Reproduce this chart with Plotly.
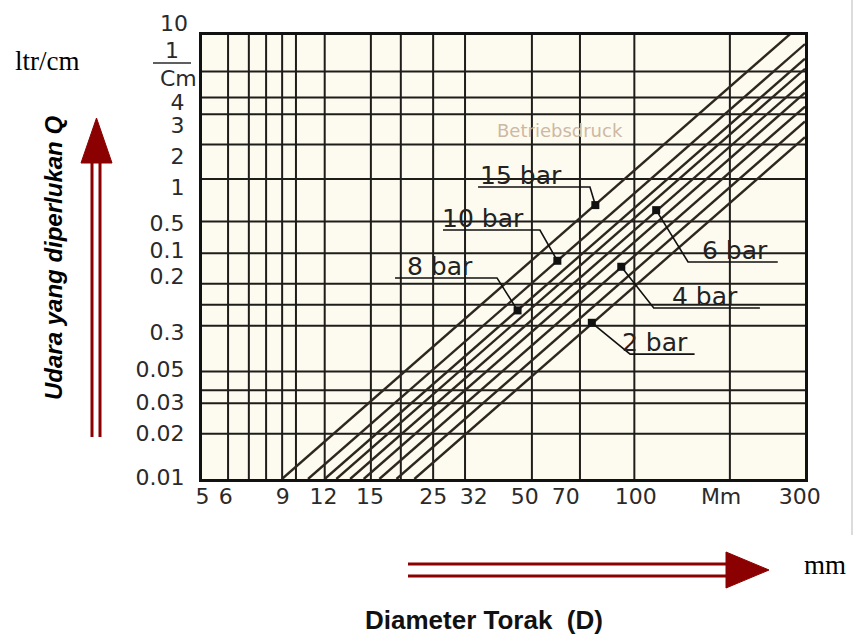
import numpy as np
import plotly.graph_objects as go

# ---------------- data ----------------
# axis extents: diameter D in mm, air Q in l/cm
x_range = [5, 340]
y_range = [0.01, 9.12]

# grid line positions
x_grid = [6.0, 6.94, 7.83, 8.76, 9.65, 11.8, 16.3, 20.1, 25.2, 31.5, 50.3, 70.4, 103, 201]
y_grid = [0.02, 0.032, 0.039, 0.052, 0.105, 0.145, 0.2, 0.32, 0.52, 1.0, 1.7, 2.7, 3.5, 5.2]

# tick labels as printed (positions where they sit on the scan)
x_tick_pos = [5.02, 5.9, 8.8, 11.7, 16.2, 25.2, 33.5, 47.8, 63.7, 104, 189, 328]
x_tick_text = ["5", "6", "9", "12", "15", "25", "32", "50", "70", "100", "Mm", "300"]
y_tick_pos = [0.0103, 0.0203, 0.0326, 0.054, 0.0955, 0.226, 0.336, 0.509, 0.884, 1.42, 2.29, 3.26]
y_tick_text = ["0.01", "0.02", "0.03", "0.05", "0.3", "0.2", "0.1", "0.5", "1", "2", "3", "4"]

# pressure lines: diameter where Q = 0.01 l/cm, and Q at D = 340 mm
line_d_low = [8.75, 10.5, 11.8, 12.8, 14.1, 15.5, 17.3, 19.5, 22.1]
line_q_low = 0.01
line_d_high = 340
line_q_high = [11.3, 7.94, 6.34, 5.43, 4.51, 3.76, 3.04, 2.42, 1.90]

# labelled pressure lines
label_text = ["15 bar", "10 bar", "8 bar", "6 bar", "4 bar", "2 bar"]
label_dot_d = [78.4, 60.1, 45.5, 120, 94, 76.5]
label_dot_q = [0.67, 0.285, 0.133, 0.62, 0.26, 0.11]
label_under_q = [0.884, 0.457, 0.219, 0.28, 0.138, 0.068]
label_far_d = [34.5, 27.0, 19.3, 281, 248, 157]
label_elbow_d = [75.5, 53.2, 39.4, 150, 118, 100]
label_text_d = [34.5, 26.4, 20.7, 163, 132, 93]

# ---------------- figure ----------------
W, H = 859, 635
L, R, T, B = 202, 54, 35, 156
PW, PH = W - L - R, H - T - B


def px(xp, yp):
    """pixel position on the page -> paper coordinates"""
    return (xp - L) / PW, (T + PH - yp) / PH


fig = go.Figure()

gx, gy = [], []
for v in x_grid:
    gx += [v, v, None]
    gy += [y_range[0], y_range[1], None]
for v in y_grid:
    gx += [x_range[0], x_range[1], None]
    gy += [v, v, None]
fig.add_trace(go.Scatter(x=gx, y=gy, mode="lines",
                         line=dict(color="#1f1d1a", width=2),
                         hoverinfo="skip", showlegend=False))

for d0, q1 in zip(line_d_low, line_q_high):
    fig.add_trace(go.Scatter(x=[d0, line_d_high], y=[line_q_low, q1], mode="lines",
                             line=dict(color="#2e2720", width=2.4),
                             hoverinfo="skip", showlegend=False))

for i in range(len(label_text)):
    fig.add_trace(go.Scatter(
        x=[label_far_d[i], label_elbow_d[i], label_dot_d[i]],
        y=[label_under_q[i], label_under_q[i], label_dot_q[i]],
        mode="lines", line=dict(color="#111111", width=1.6),
        hoverinfo="skip", showlegend=False))
fig.add_trace(go.Scatter(x=label_dot_d, y=label_dot_q, mode="markers",
                         marker=dict(color="#111111", size=8, symbol="square"),
                         hoverinfo="skip", showlegend=False))

annotations = []
for i, t in enumerate(label_text):
    annotations.append(dict(
        x=np.log10(label_text_d[i]), y=np.log10(label_under_q[i]), xref="x", yref="y",
        text=t, showarrow=False, xanchor="left", yanchor="bottom", yshift=-5,
        font=dict(family="DejaVu Sans", size=25, color="#222222")))

tick_font = dict(family="DejaVu Sans", size=22, color="#2a2a2a")


def txt(xp, yp, text, size, family, xanchor="center", color="#000000", angle=0):
    x, y = px(xp, yp)
    annotations.append(dict(x=x, y=y, xref="paper", yref="paper", text=text,
                            showarrow=False, xanchor=xanchor, yanchor="middle",
                            textangle=angle,
                            font=dict(family=family, size=size, color=color)))


txt(190, 24, "10", 22, "DejaVu Sans", xanchor="right", color="#2a2a2a")
txt(172, 51, "1", 22, "DejaVu Sans", color="#2a2a2a")
txt(178, 78, "Cm", 22, "DejaVu Sans", color="#2a2a2a")
txt(560, 130, "Betriebsdruck", 18, "DejaVu Sans", color="#cdb8a4")
txt(47, 61, "ltr/cm", 27, "Liberation Serif")
txt(825, 565, "mm", 27, "Liberation Serif")
txt(484, 620, "<b>Diameter Torak \u00a0(D)</b>", 26, "Liberation Sans", color="#111111")
txt(53, 258, "<b><i>Udara yang diperlukan Q</i></b>", 24,
    "Liberation Sans Narrow, Liberation Sans", angle=-90)

shapes = []
ARROW = "#8B0000"


def seg(x0p, y0p, x1p, y1p, color, width):
    x0, y0 = px(x0p, y0p)
    x1, y1 = px(x1p, y1p)
    shapes.append(dict(type="line", xref="paper", yref="paper", x0=x0, y0=y0, x1=x1, y1=y1,
                       line=dict(color=color, width=width)))


def tri(pts, color):
    p = [px(a, b) for a, b in pts]
    path = "M {} {} L {} {} L {} {} Z".format(p[0][0], p[0][1], p[1][0], p[1][1], p[2][0], p[2][1])
    shapes.append(dict(type="path", xref="paper", yref="paper", path=path,
                       fillcolor=color, line=dict(color=color, width=1)))


# fraction bar of "1/Cm"
seg(153, 63, 191, 63, "#2a2a2a", 1.5)
# vertical arrow
seg(92, 437, 92, 160, ARROW, 3)
seg(100, 437, 100, 160, ARROW, 3)
tri([(81, 163), (112, 163), (96.5, 118)], ARROW)
# horizontal arrow
seg(408, 564, 730, 564, ARROW, 3)
seg(408, 576, 730, 576, ARROW, 3)
tri([(726, 552), (726, 588), (769, 570)], ARROW)
# edge of scanned page
seg(852, 0, 852, 535, "#b8b8b8", 1)

fig.update_layout(
    width=W, height=H,
    margin=dict(l=L, r=R, t=T, b=B, pad=0),
    paper_bgcolor="white",
    plot_bgcolor="#fdfbef",
    showlegend=False,
    xaxis=dict(type="log", range=[np.log10(x_range[0]), np.log10(x_range[1])],
               tickmode="array", tickvals=x_tick_pos, ticktext=x_tick_text,
               showgrid=False, zeroline=False, ticks="",
               showline=True, mirror=True, linecolor="#111111", linewidth=3,
               tickfont=tick_font, ticklabelstandoff=-4),
    yaxis=dict(type="log", range=[np.log10(y_range[0]), np.log10(y_range[1])],
               tickmode="array", tickvals=y_tick_pos, ticktext=y_tick_text,
               showgrid=False, zeroline=False, ticks="",
               showline=True, mirror=True, linecolor="#111111", linewidth=3,
               tickfont=tick_font, ticklabelstandoff=10),
    annotations=annotations,
    shapes=shapes,
)

fig.write_html("out.html", config={"displayModeBar": False},
               post_script="document.body.style.margin='0';")
